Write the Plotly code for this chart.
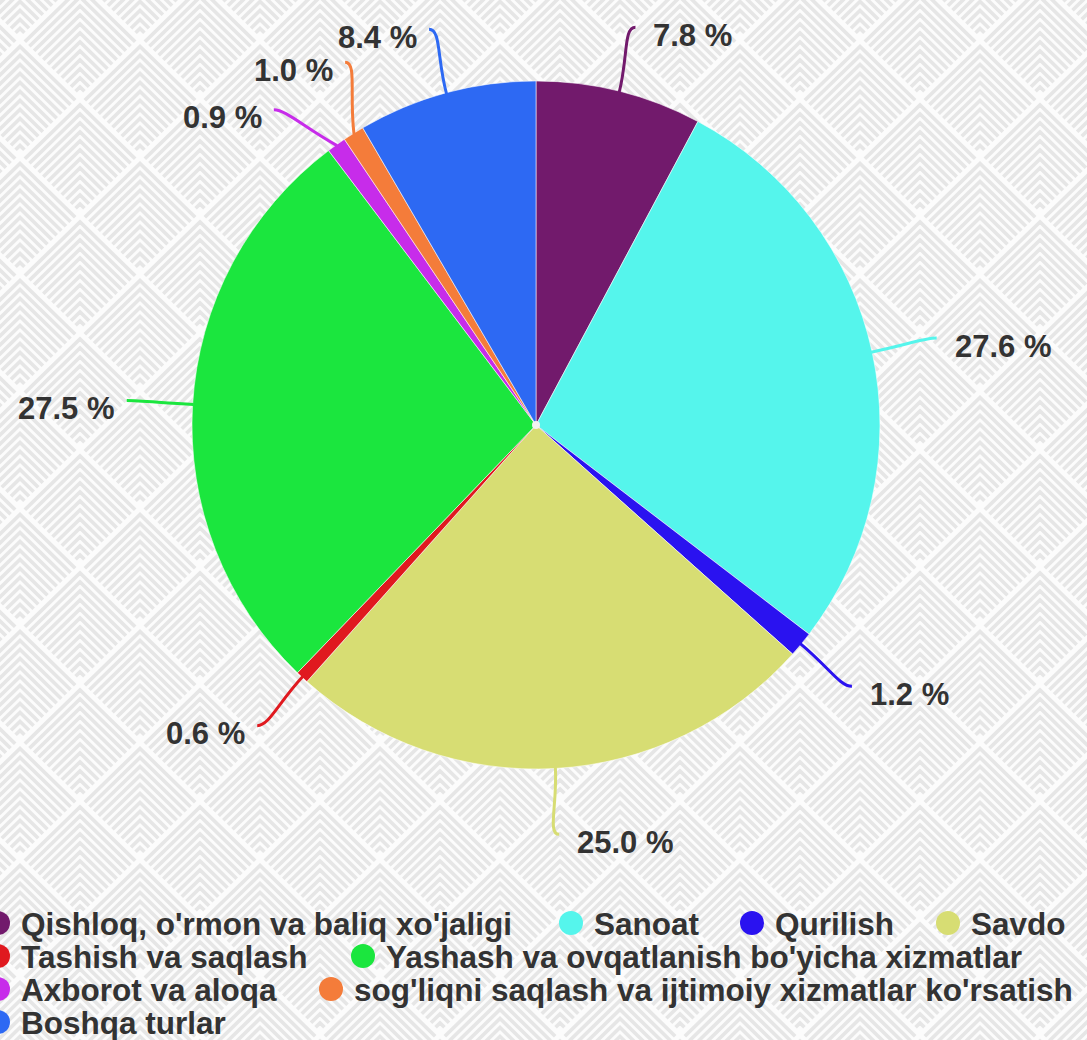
import math
import base64
import plotly.graph_objects as go

# ---- data ----
labels = [
    "Qishloq, o'rmon va baliq xo'jaligi",
    "Sanoat",
    "Qurilish",
    "Savdo",
    "Tashish va saqlash",
    "Yashash va ovqatlanish bo'yicha xizmatlar",
    "Axborot va aloqa",
    "sog'liqni saqlash va ijtimoiy xizmatlar ko'rsatish",
    "Boshqa turlar",
]
shares = [7.8, 27.6, 1.2, 25.0, 0.6, 27.5, 0.9, 1.0, 8.4]
colors = [
    "#721A6C", "#55F5EC", "#2A12F0", "#D7DD73", "#E0191F",
    "#1BE63E", "#C72CEA", "#F47C3A", "#2D69F3",
]

# ---- page geometry (pixels) ----
W, H = 1087, 1040
CX, CY, R = 536, 425, 344          # pie centre and radius
LABEL_R = 410                      # radius where leader lines end
MIN_SEP = 12.0                     # minimum angular gap between labels (deg)
FONT = "Liberation Sans, Arial, sans-serif"
TEXT_COLOR = "#333333"


def px(x):
    return x / W


def py(y):
    return 1 - y / H


def chevron_background():
    """Light grey nested-chevron tiling as an inline SVG."""
    tw, th = 120, 117
    k = th / tw
    step = 9.0
    d0 = 6.5
    segs = []
    for i in range(-1, 3):
        for j in range(-1, 3):
            for vx, vy in [(tw * i, th * j), (tw * i + tw / 2, th * j + th / 2)]:
                d = d0
                while d < th - 4:
                    w = (th - d) / (2 * k) - 1.5
                    yb = vy + d + k * w
                    segs.append(
                        f"M{vx - w:.2f},{yb:.2f}L{vx:.2f},{vy + d:.2f}L{vx + w:.2f},{yb:.2f}"
                    )
                    d += step
    svg = (
        f'<svg xmlns="http://www.w3.org/2000/svg" width="{W}" height="{H}">'
        f'<defs><pattern id="chev" patternUnits="userSpaceOnUse" x="20" y="40" '
        f'width="{tw}" height="{th}">'
        f'<rect width="{tw}" height="{th}" fill="#fcfcfc"/>'
        f'<path d="{"".join(segs)}" fill="none" stroke="#e6e6e6" stroke-width="3.6"/>'
        f'</pattern></defs><rect width="{W}" height="{H}" fill="url(#chev)"/></svg>'
    )
    return "data:image/svg+xml;base64," + base64.b64encode(svg.encode()).decode()


fig = go.Figure()
fig.add_trace(
    go.Pie(
        labels=labels,
        values=shares,
        sort=False,
        direction="clockwise",
        rotation=0,
        marker=dict(colors=colors, line=dict(color="rgba(255,255,255,0.55)", width=1)),
        textinfo="none",
        hoverinfo="label+percent",
        showlegend=False,
        domain=dict(x=[px(CX - R), px(CX + R)], y=[py(CY + R), py(CY - R)]),
    )
)

# ---- slice middle angles (clockwise from 12 o'clock) ----
total = sum(shares)
mids = []
acc = 0.0
for v in shares:
    mids.append((acc + v / 2) / total * 360)
    acc += v
sides = [1 if math.sin(math.radians(a)) >= 0 else -1 for a in mids]

# spread crowded labels apart on each side
label_ang = list(mids)
for side in (1, -1):
    idx = sorted([i for i in range(len(mids)) if sides[i] == side], key=lambda i: mids[i])
    clusters = [[i] for i in idx]

    def place(cl):
        m = sum(mids[i] for i in cl) / len(cl)
        return [m + (n - (len(cl) - 1) / 2) * MIN_SEP for n in range(len(cl))]

    merged = True
    while merged:
        merged = False
        for c in range(len(clusters) - 1):
            if place(clusters[c])[-1] + MIN_SEP > place(clusters[c + 1])[0]:
                clusters[c] = clusters[c] + clusters.pop(c + 1)
                merged = True
                break
    for cl in clusters:
        for i, a in zip(cl, place(cl)):
            label_ang[i] = a

shapes = []
annotations = []
for i, v in enumerate(shares):
    a0 = math.radians(mids[i])
    a1 = math.radians(label_ang[i])
    s = sides[i]
    x0, y0 = CX + (R - 1) * math.sin(a0), CY - (R - 1) * math.cos(a0)
    x2, y2 = CX + LABEL_R * math.sin(a1), CY - LABEL_R * math.cos(a1)
    c1x, c1y = x0 + (x2 - x0) * 0.55, y0 + (y2 - y0) * 0.55
    c2x, c2y = x2 - s * 12, y2
    path = (
        f"M {px(x0)},{py(y0)} C {px(c1x)},{py(c1y)} {px(c2x)},{py(c2y)} {px(x2)},{py(y2)}"
    )
    shapes.append(
        dict(type="path", xref="paper", yref="paper", path=path,
             line=dict(color=colors[i], width=3), layer="above")
    )
    annotations.append(
        dict(
            text=f"<b>{v:.1f} %</b>",
            x=px(x2 + (16 if s > 0 else -10)),
            y=py(y2 + 8),
            xref="paper", yref="paper",
            xanchor="left" if s > 0 else "right",
            yanchor="middle",
            showarrow=False,
            font=dict(family=FONT, size=31, color=TEXT_COLOR),
        )
    )

# small light dot at the pie centre
shapes.append(
    dict(type="circle", xref="paper", yref="paper",
         x0=px(CX - 4), x1=px(CX + 4), y0=py(CY + 4), y1=py(CY - 4),
         fillcolor="#f2f2f2", line=dict(width=0), layer="above")
)

# ---- legend (rows of coloured dots and names) ----
legend_rows = [[0, 1, 2, 3], [4, 5], [6, 7], [8]]
legend_text_x = [[21, 594, 775, 971], [21, 386], [21, 354], [21]]
legend_row_y = [923, 956, 989, 1022]
DOT_R = 12
for row, xs, ry in zip(legend_rows, legend_text_x, legend_row_y):
    for i, tx in zip(row, xs):
        cx = tx - 23
        shapes.append(
            dict(type="circle", xref="paper", yref="paper",
                 x0=px(cx - DOT_R), x1=px(cx + DOT_R),
                 y0=py(ry + DOT_R), y1=py(ry - DOT_R),
                 fillcolor=colors[i], line=dict(width=0))
        )
        annotations.append(
            dict(
                text=f"<b>{labels[i]}</b>",
                x=px(tx - 2), y=py(ry + 1),
                xref="paper", yref="paper",
                xanchor="left", yanchor="middle",
                showarrow=False,
                font=dict(family=FONT, size=31.5, color=TEXT_COLOR),
            )
        )

fig.update_layout(
    width=W,
    height=H,
    autosize=False,
    margin=dict(l=0, r=0, t=0, b=0),
    paper_bgcolor="#ffffff",
    plot_bgcolor="rgba(0,0,0,0)",
    shapes=shapes,
    annotations=annotations,
    images=[
        dict(source=chevron_background(), xref="paper", yref="paper",
             x=0, y=1, sizex=1, sizey=1, xanchor="left", yanchor="top",
             sizing="stretch", layer="below")
    ],
)

fig.write_html("out.html")
